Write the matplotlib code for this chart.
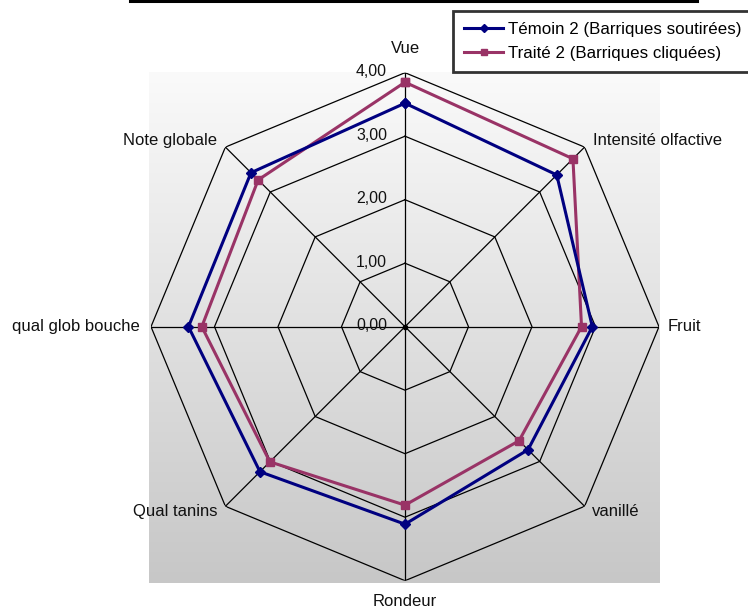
import numpy as np
import matplotlib
matplotlib.use("Agg")
import matplotlib.pyplot as plt
from matplotlib.lines import Line2D

plt.rcParams['font.family'] = ['Liberation Sans', 'DejaVu Sans']

# Sensory descriptors, clockwise from the top
categories = ["Vue", "Intensité olfactive", "Fruit", "vanillé",
              "Rondeur", "Qual tanins", "qual glob bouche", "Note globale"]
temoin = [3.52, 3.38, 2.95, 2.74, 3.11, 3.23, 3.41, 3.43]
traite = [3.85, 3.74, 2.78, 2.54, 2.81, 3.01, 3.20, 3.27]
series_names = ["Témoin 2 (Barriques soutirées)", "Traité 2 (Barriques cliquées)"]
ring_values = [0, 1, 2, 3, 4]
ring_labels = ["0,00", "1,00", "2,00", "3,00", "4,00"]

W, H = 748, 611
fig = plt.figure(figsize=(W / 100, H / 100), dpi=100)
PT = 0.72  # points per pixel at 100 dpi

def frac(x0, y0, x1, y1):
    """pixel box (top-left origin) -> figure fraction rect"""
    return [x0 / W, 1 - y1 / H, (x1 - x0) / W, (y1 - y0) / H]

# Plot-area gradient background
bg = fig.add_axes(frac(149, 72, 660, 583))
grad = np.linspace(250, 199, 256)[:, None] / 255.0
bg.imshow(np.dstack([grad, grad, grad]), aspect="auto", extent=[0, 1, 0, 1],
          interpolation="bicubic")
bg.axis("off")

# Radar
center = (405, 326.7)
R = 254
ax = fig.add_axes(frac(center[0] - R, center[1] - R, center[0] + R, center[1] + R),
                  projection="polar")
ax.patch.set_alpha(0)
ax.set_theta_zero_location("N")
ax.set_theta_direction(-1)
ax.set_ylim(0, 4)
ax.grid(False)
ax.spines["polar"].set_visible(False)
ax.set_xticks([])
ax.set_yticks([])

n = len(categories)
angles = np.arange(n) * 2 * np.pi / n
closed = np.append(angles, angles[0])

for rv in ring_values[1:]:
    ax.plot(closed, [rv] * (n + 1), color="black", lw=0.9, zorder=1)
for a in angles:
    ax.plot([a, a], [0, 4], color="black", lw=0.9, zorder=1)
ax.plot([0], [0], marker="o", ms=3, color="black", zorder=2)

t_vals = np.append(temoin, temoin[0])
p_vals = np.append(traite, traite[0])
ax.plot(closed, p_vals, color="#993366", lw=2.2, marker="s", ms=5.5,
        zorder=3, clip_on=False)
ax.plot(closed, t_vals, color="#000080", lw=2.2, marker="D", ms=5,
        zorder=4, clip_on=False)

# Ring value labels on the vertical axis
for rv, lab in zip(ring_values, ring_labels):
    ax.annotate(lab, xy=(0, rv), xytext=(-18 * PT, 1 * PT), textcoords="offset points",
                ha="right", va="center", fontsize=11.4, color="#111111")

# Category labels (offsets in pixels)
offsets = [(0, 24), (8, 7), (9, 0), (7, -5), (0, -21), (-8, -5), (-11, 0), (-8, 7)]
aligns = ["center", "left", "left", "left", "center", "right", "right", "right"]
for a, lab, (dx, dy), ha in zip(angles, categories, offsets, aligns):
    ax.annotate(lab, xy=(a, 4), xytext=(dx * PT, dy * PT), textcoords="offset points",
                ha=ha, va="center", fontsize=12, color="#111111", annotation_clip=False)

# Top rule
fig.add_artist(Line2D([130 / W, 697 / W], [1 - 1 / H, 1 - 1 / H], color="black", lw=2.2))

# Legend
handles = [Line2D([], [], color="#000080", lw=2.2, marker="D", ms=4.5),
           Line2D([], [], color="#993366", lw=2.2, marker="s", ms=5)]
leg = fig.legend(handles, series_names, loc="upper left",
                 bbox_to_anchor=(453 / W, 1 - 11 / H), fontsize=12.2,
                 frameon=True, fancybox=False, handlelength=2.3, handletextpad=0.3,
                 borderpad=0.65, labelspacing=0.52, borderaxespad=0)
leg.get_frame().set_edgecolor("black")
leg.get_frame().set_linewidth(2)

fig.savefig("out.png", dpi=100)
